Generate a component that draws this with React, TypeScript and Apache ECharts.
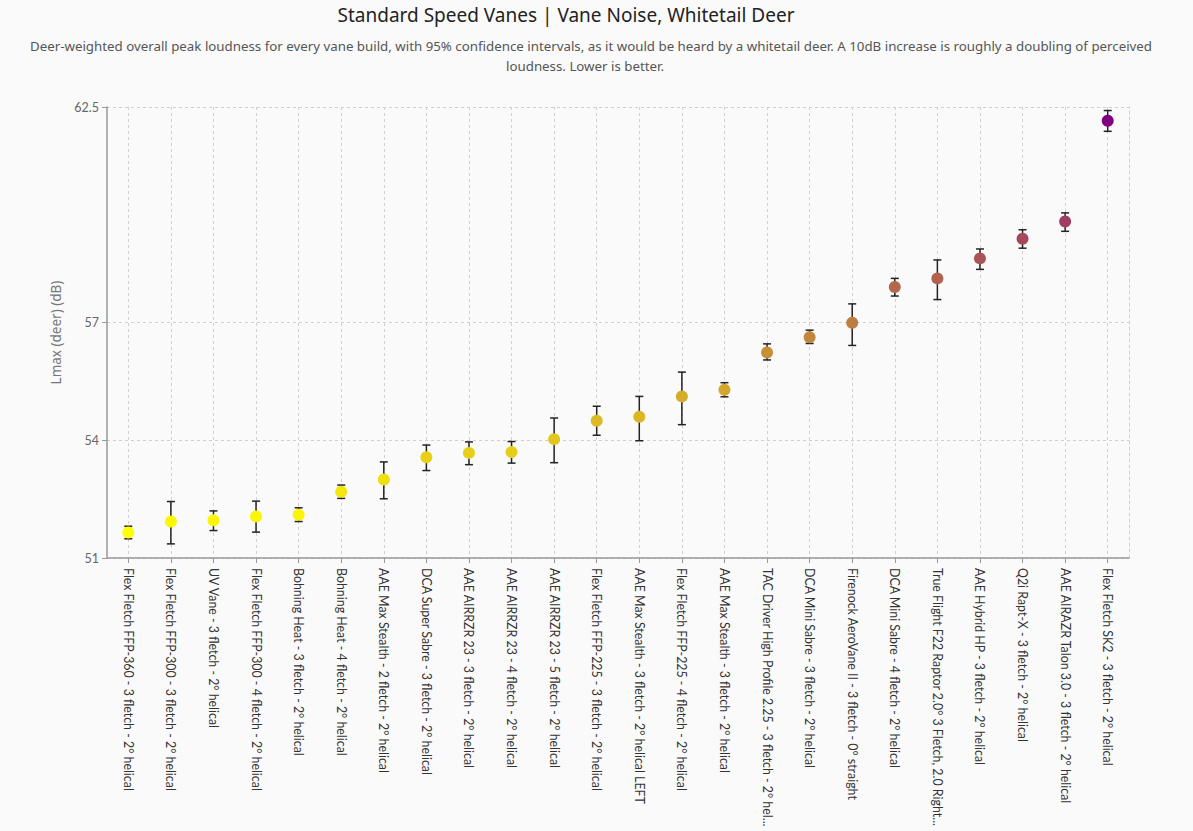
import React, { useEffect, useRef } from "react";
import * as echarts from "echarts";

const categories = [
  "Flex Fletch FFP-360 - 3 fletch - 2° helical",
  "Flex Fletch FFP-300 - 3 fletch - 2° helical",
  "UV Vane - 3 fletch - 2° helical",
  "Flex Fletch FFP-300 - 4 fletch - 2° helical",
  "Bohning Heat - 3 fletch - 2° helical",
  "Bohning Heat - 4 fletch - 2° helical",
  "AAE Max Stealth - 2 fletch - 2° helical",
  "DCA Super Sabre - 3 fletch - 2° helical",
  "AAE AIRRZR 23 - 3 fletch - 2° helical",
  "AAE AIRRZR 23 - 4 fletch - 2° helical",
  "AAE AIRRZR 23 - 5 fletch - 2° helical",
  "Flex Fletch FFP-225 - 3 fletch - 2° helical",
  "AAE Max Stealth - 3 fletch - 2° helical LEFT",
  "Flex Fletch FFP-225 - 4 fletch - 2° helical",
  "AAE Max Stealth - 3 fletch - 2° helical",
  "TAC Driver High Profile 2.25 - 3 fletch - 2° helical",
  "DCA Mini Sabre - 3 fletch - 2° helical",
  "Firenock AeroVane II - 3 fletch - 0° straight",
  "DCA Mini Sabre - 4 fletch - 2° helical",
  "True Flight F22 Raptor 2.0° 3 Fletch, 2.0 Right Helical",
  "AAE Hybrid HP - 3 fletch - 2° helical",
  "Q2i Rapt-X - 3 fletch - 2° helical",
  "AAE AIRAZR Talon 3.0 - 3 fletch - 2° helical",
  "Flex Fletch SK2 - 3 fletch - 2° helical",
];

const means = [
  51.65, 51.93, 51.96, 52.06, 52.1, 52.69, 53.0, 53.57, 53.68, 53.7, 54.03, 54.5,
  54.6, 55.12, 55.29, 56.24, 56.63, 57.0, 57.91, 58.13, 58.64, 59.14, 59.58, 62.15,
];

const lower = [
  51.49, 51.36, 51.7, 51.66, 51.93, 52.52, 52.51, 53.23, 53.38, 53.42, 53.43, 54.13,
  53.99, 54.4, 55.11, 56.05, 56.47, 56.42, 57.68, 57.59, 58.36, 58.9, 59.33, 61.88,
];

const upper = [
  51.81, 52.44, 52.2, 52.45, 52.28, 52.86, 53.45, 53.88, 53.96, 53.97, 54.57, 54.87,
  55.12, 55.74, 55.47, 56.46, 56.81, 57.48, 58.13, 58.6, 58.88, 59.37, 59.8, 62.41,
];

const yTicks = [51, 54, 57, 62.5];

const TITLE = "Standard Speed Vanes | Vane Noise, Whitetail Deer";
const SUB1 =
  "Deer-weighted overall peak loudness for every vane build, with 95% confidence intervals, as it would be heard by a whitetail deer. A 10dB increase is roughly a doubling of perceived";
const SUB2 = "loudness. Lower is better.";
const Y_NAME = "Lmax (deer) (dB)";

const FONT = "'Noto Sans', Lato, sans-serif";
const LABEL_FONT = "Lato, 'Noto Sans', sans-serif";

export default function App() {
  const ref = useRef<HTMLDivElement>(null);

  useEffect(() => {
    document.body.style.margin = "0";
    document.body.style.background = "#fafafa";
    if (!ref.current) return;
    const chart = echarts.init(ref.current, null, { renderer: "svg" });

    const errData = categories.map((_, i) => [i, lower[i], upper[i]]);
    const pointData = categories.map((_, i) => [i, means[i]]);

    const option = {
      animation: false,
      backgroundColor: "#fafafa",
      textStyle: { fontFamily: LABEL_FONT },
      graphic: [
        {
          type: "text",
          x: 566,
          y: 15,
          style: {
            text: TITLE,
            fontSize: 19,
            fontFamily: FONT,
            fill: "#222",
            textAlign: "center",
            textVerticalAlign: "middle",
          },
        },
        {
          type: "text",
          x: 591,
          y: 46,
          style: {
            text: SUB1,
            fontSize: 13.3,
            fontFamily: FONT,
            fill: "#555",
            textAlign: "center",
            textVerticalAlign: "middle",
          },
        },
        {
          type: "text",
          x: 585,
          y: 66,
          style: {
            text: SUB2,
            fontSize: 13.3,
            fontFamily: FONT,
            fill: "#555",
            textAlign: "center",
            textVerticalAlign: "middle",
          },
        },
      ],
      grid: { left: 107, right: 64, top: 107, bottom: 273 },
      visualMap: {
        show: false,
        type: "continuous",
        seriesIndex: 1,
        dimension: 1,
        min: Math.min(...means),
        max: Math.max(...means),
        inRange: { color: ["#ffff00", "#800080"] },
      },
      xAxis: {
        type: "category",
        data: categories,
        boundaryGap: true,
        axisLine: { show: true, lineStyle: { color: "#999", width: 1.5 } },
        axisTick: { show: true, alignWithLabel: true, length: 5, lineStyle: { color: "#999" } },
        axisLabel: {
          interval: 0,
          rotate: -90,
          fontSize: 12.4,
          fontFamily: LABEL_FONT,
          color: "#333",
          margin: 10,
          width: 266,
          overflow: "truncate",
          ellipsis: "...",
        },
        splitLine: {
          show: true,
          alignWithLabel: true,
          lineStyle: { color: "#d0d0d0", type: [3, 3], width: 1 },
        },
      },
      yAxis: [
        {
          type: "value",
          min: 51,
          max: 62.5,
          name: Y_NAME,
          nameLocation: "middle",
          nameGap: 42,
          nameTextStyle: { color: "#777", fontSize: 13.5, fontFamily: FONT },
          axisLine: { show: true, lineStyle: { color: "#999", width: 1.5 } },
          axisTick: { show: true, length: 5, customValues: yTicks, lineStyle: { color: "#999" } },
          axisLabel: { customValues: yTicks, color: "#666", fontSize: 12.5, fontFamily: LABEL_FONT, margin: 8 },
          splitLine: { show: true, lineStyle: { color: "#d0d0d0", type: [3, 3], width: 1 } },
        },
        {
          type: "value",
          position: "right",
          min: 51,
          max: 62.5,
          axisLine: { show: true, lineStyle: { color: "#d0d0d0", type: [3, 3], width: 1 } },
          axisTick: { show: false },
          axisLabel: { show: false },
          splitLine: { show: false },
        },
      ],
      series: [
        {
          type: "custom",
          name: "ci",
          data: errData,
          encode: { x: 0, y: [1, 2] },
          z: 1,
          renderItem: (params: any, api: any) => {
            const i = api.value(0);
            const lo = api.coord([i, api.value(1)]);
            const hi = api.coord([i, api.value(2)]);
            const half = 4;
            const style = { stroke: "#222", lineWidth: 1.5 };
            return {
              type: "group",
              children: [
                { type: "line", shape: { x1: lo[0], y1: lo[1], x2: hi[0], y2: hi[1] }, style },
                { type: "line", shape: { x1: hi[0] - half, y1: hi[1], x2: hi[0] + half, y2: hi[1] }, style },
                { type: "line", shape: { x1: lo[0] - half, y1: lo[1], x2: lo[0] + half, y2: lo[1] }, style },
              ],
            };
          },
        },
        {
          type: "scatter",
          name: "Lmax",
          data: pointData,
          symbol: "circle",
          symbolSize: 12,
          z: 2,
          itemStyle: { opacity: 1 },
        },
      ],
    };

    chart.setOption(option as any);
    return () => chart.dispose();
  }, []);

  return <div ref={ref} style={{ width: 1193, height: 831 }} />;
}
